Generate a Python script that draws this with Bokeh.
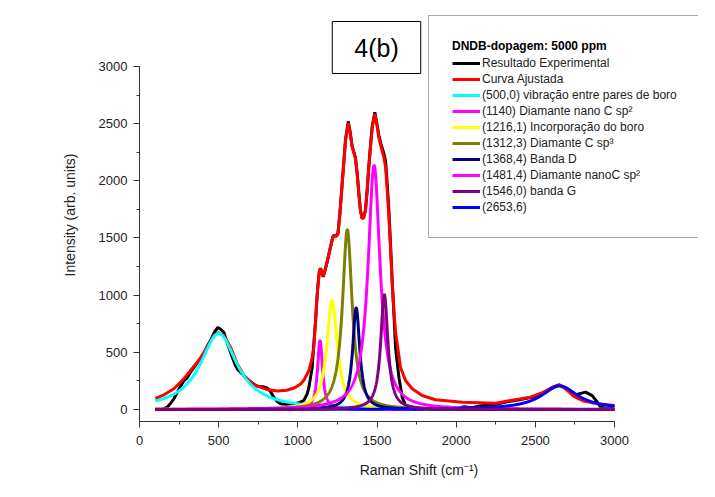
import numpy as np
from bokeh.plotting import figure
from bokeh.models import Legend, LegendItem, Label, Range1d, SingleIntervalTicker
from bokeh.embed import file_html
from bokeh.resources import INLINE

# Experimental spectrum
exp_x = [100, 150, 175, 200, 217, 250, 280, 300, 322, 350, 375, 406, 430, 448, 475, 495, 515, 532,
         550, 564, 585, 606, 620, 638, 660, 680, 705, 733, 760, 785, 810, 830, 848, 870, 890, 930,
         975, 1010, 1038, 1060, 1070, 1080, 1091, 1100, 1112, 1120, 1126, 1135, 1143, 1152, 1160,
         1172, 1185, 1206, 1220, 1227, 1240, 1253, 1265, 1280, 1301, 1318, 1330, 1343, 1355, 1364,
         1375, 1385, 1395, 1406, 1416, 1427, 1438, 1448, 1460, 1470, 1486, 1498, 1511, 1525, 1543,
         1554, 1565, 1575, 1586, 1596, 1607, 1617, 1638, 1659, 1680, 1701, 1750, 1800, 1850, 1900,
         1950, 2000, 2050, 2100, 2150, 2200, 2250, 2300, 2350, 2400, 2450, 2490, 2554, 2617, 2650,
         2691, 2743, 2775, 2817, 2859, 2891, 2912, 2964, 2996]
exp_y = [3, 5, 20, 60, 94, 180, 254, 275, 326, 380, 429, 487, 560, 603, 680, 718, 700, 676,
         600, 545, 460, 385, 350, 326, 295, 268, 240, 210, 198, 198, 185, 150, 108, 70, 50, 45,
         50, 60, 79, 140, 195, 280, 370, 560, 778, 960, 1070, 1200, 1235, 1195, 1160,
         1220, 1290, 1420, 1505, 1525, 1515, 1540, 1710, 1980, 2360, 2520, 2430, 2300, 2245, 2200,
         2060, 1895, 1745, 1670, 1680, 1745, 1925, 2125, 2330, 2480, 2600, 2510, 2400, 2320, 2240,
         2170, 1960, 1740, 1420, 1120, 820, 540, 283, 108, 35, 6, 10, 5, 15, 5,
         20, 10, 25, 15, 30, 40, 45, 60, 75, 85, 100, 110, 152, 200, 215,
         185, 125, 137, 152, 122, 64, 20, 6, 35]

# Fitted envelope
fit_x = [100, 150, 217, 280, 322, 375, 427, 469, 497, 533, 575, 617, 659, 722, 806, 870, 930,
         980, 1017, 1040, 1070, 1090, 1101, 1112, 1120, 1126, 1135, 1143, 1152, 1160, 1172, 1185,
         1206, 1220, 1227, 1240, 1253, 1265, 1280, 1301, 1318, 1330, 1343, 1355, 1364, 1375, 1385,
         1395, 1406, 1416, 1427, 1438, 1448, 1460, 1470, 1486, 1498, 1511, 1525, 1543, 1554, 1565,
         1575, 1586, 1596, 1607, 1617, 1648, 1680, 1722, 1785, 1869, 2038, 2248, 2343, 2469, 2554,
         2617, 2648, 2691, 2743, 2806, 2891, 3000]
fit_y = [95, 125, 181, 268, 341, 429, 545, 647, 672, 647, 545, 400, 297, 215, 175, 162, 168,
         190, 224, 260, 341, 450, 545, 778, 960, 1070, 1200, 1230, 1195, 1165, 1220, 1290,
         1420, 1500, 1522, 1515, 1530, 1700, 1974, 2353, 2504, 2420, 2295, 2240, 2193, 2050, 1887,
         1740, 1668, 1680, 1741, 1920, 2119, 2320, 2469, 2586, 2500, 2382, 2300, 2207, 2119, 1900,
         1683, 1380, 1100, 860, 680, 370, 254, 181, 122, 85, 64, 55, 79, 108, 152,
         195, 216, 181, 114, 73, 50, 35]

# Fitted Lorentzian components (center, height, FWHM)
peak_labels = ["(500,0) vibração entre pares de boro", "(1140) Diamante nano C sp²",
               "(1216,1) Incorporação do boro", "(1312,3) Diamante C sp³", "(1368,4) Banda D",
               "(1481,4) Diamante nanoC sp²", "(1546,0) banda G", "(2653,6)"]
peak_centers = [500.0, 1140.0, 1216.1, 1312.3, 1368.4, 1481.4, 1546.0, 2653.6]
peak_heights = [665, 604, 953, 1572, 889, 2134, 1006, 206]
peak_fwhm = [285, 38, 80, 74, 55, 92, 55, 280]
peak_colors = ["#00FFFF", "#FF00FF", "#FFFF00", "#808000", "#000080", "#FF00FF", "#800080", "#0000FF"]
# drawing order of the components (purple baseline ends up on top, as in the original)
draw_order = [0, 1, 2, 3, 4, 5, 7, 6]

legend_title = "DNDB-dopagem: 5000 ppm"
exp_label = "Resultado Experimental"
fit_label = "Curva Ajustada"

FONT = "Liberation Sans"

# frame spans beyond the axes so that the legend and the tag box are not clipped;
# the axes themselves are bounded to the data span (0-3000, -105-3000)
p = figure(width=699, height=481, output_backend="svg", toolbar_location=None,
           x_range=Range1d(0, 3530), y_range=Range1d(-105, 3507),
           min_border_left=139, min_border_right=1, min_border_top=8, min_border_bottom=60,
           background_fill_color="white", border_fill_color="white")
p.outline_line_color = None
p.grid.visible = False
p.xaxis.bounds = (0, 3000)
p.yaxis.bounds = (-105, 3000)

for ax in (p.xaxis[0], p.yaxis[0]):
    ax.ticker = SingleIntervalTicker(interval=500, num_minor_ticks=2)
    ax.major_tick_out = 6
    ax.major_tick_in = 0
    ax.minor_tick_out = 3
    ax.minor_tick_in = 0
    ax.axis_line_color = "#333333"
    ax.major_tick_line_color = "#333333"
    ax.minor_tick_line_color = "#333333"
    ax.major_label_text_font = FONT
    ax.major_label_text_font_size = "13px"
    ax.major_label_text_color = "#222222"
    ax.axis_label_text_font = FONT
    ax.axis_label_text_font_size = "14px"
    ax.axis_label_text_font_style = "normal"
    ax.axis_label_text_color = "#222222"

p.xaxis.axis_label = "Raman Shift (cm⁻¹)"
p.yaxis.axis_label = "Intensity (arb. units)"
p.xaxis.major_label_standoff = 8
p.yaxis.major_label_standoff = 6
p.xaxis.axis_label_standoff = 14
p.yaxis.axis_label_standoff = 18

r_exp = p.line(exp_x, exp_y, line_color="black", line_width=3)
r_fit = p.line(fit_x, fit_y, line_color="#FF0000", line_width=3)

xs = np.linspace(100, 3000, 2901)
comp_renderers = {}
for i in draw_order:
    g = peak_fwhm[i] / 2.0
    ys = peak_heights[i] * g * g / ((xs - peak_centers[i]) ** 2 + g * g)
    comp_renderers[i] = p.line(xs, ys, line_color=peak_colors[i], line_width=3)

items = [LegendItem(label=exp_label, renderers=[r_exp]), LegendItem(label=fit_label, renderers=[r_fit])]
for i, lab in enumerate(peak_labels):
    items.append(LegendItem(label=lab, renderers=[comp_renderers[i]]))

legend = Legend(items=items, location=(289, 183), title=legend_title,
                title_text_font=FONT, title_text_font_size="12px", title_text_font_style="bold",
                title_text_color="black", title_standoff=3,
                label_text_font=FONT, label_text_font_size="12px", label_text_color="#222222",
                glyph_width=28, glyph_height=14, label_height=14, spacing=2, padding=23,
                label_standoff=2, margin=0, border_line_color="#555555", border_line_width=1,
                background_fill_color="white", background_fill_alpha=1.0)
p.add_layout(legend)

tag = Label(x=237, y=374, x_units="screen", y_units="screen", text="4(b)",
            text_align="center", text_baseline="middle", text_font=FONT, text_font_size="25px",
            text_color="black", border_line_color="black", border_line_width=1,
            background_fill_color="white", padding=dict(left=22, right=22, top=12, bottom=12))
p.add_layout(tag)

open("out.html", "w").write(file_html(p, INLINE))
